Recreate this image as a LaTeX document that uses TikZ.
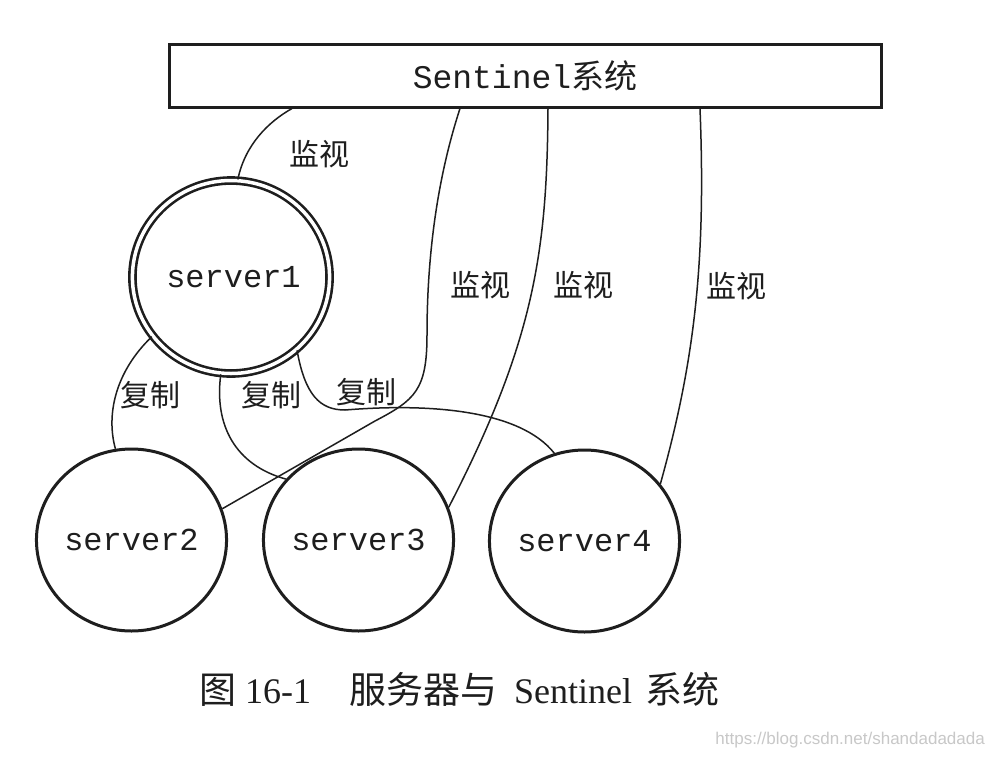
\documentclass[tikz,border=0pt]{standalone}
\usepackage{fontspec}
\setmainfont{Liberation Serif}
\newfontfamily\cjk{Noto Sans CJK SC}
\newfontfamily\mono{Liberation Mono}
\newfontfamily\wmfont{Liberation Sans}
\usetikzlibrary{shapes.geometric}
\definecolor{ink}{HTML}{1E1E1E}
\definecolor{wmgray}{HTML}{C8C8C8}
\begin{document}
\begin{tikzpicture}[x=1pt,y=-1pt,
  box/.style={draw=ink, line width=3pt, minimum width=712pt, minimum height=63pt, inner sep=0pt, text=ink, font=\fontsize{33}{36}\selectfont},
  srv/.style={draw=ink, ellipse, line width=3pt, minimum width=186pt, minimum height=182pt, inner sep=0pt, text=ink, font=\mono\fontsize{32}{34}\selectfont},
  master/.style={srv, double, double distance=3.5pt, line width=2.6pt, minimum width=197pt, minimum height=193pt},
  link/.style={draw=ink, line width=1.5pt},
  lab/.style={inner sep=0pt, text=ink, font=\cjk\fontsize{30}{34}\selectfont},
  captxt/.style={inner sep=0pt, anchor=base west, text=ink, font=\fontsize{36}{40}\selectfont},
  capcjk/.style={captxt, font=\cjk\fontsize{37}{40}\selectfont},
]
\useasboundingbox[fill=white] (0,0) rectangle (988,756);

% nodes
\node[box] (sen) at (525,75.5) {{\mono Sentinel}{\cjk 系统}};
\node[master] (s1) at (231,277) {\hspace{5pt}server1};
\node[srv] (s2) at (131.5,540) {server2};
\node[srv] (s3) at (358.5,540) {server3};
\node[srv] (s4) at (584.5,541) {server4};

% monitoring links
\draw[link] ([xshift=-233pt]sen.south) .. controls (268,122) and (245,145) .. (s1.86);
\draw[link] ([xshift=-65pt]sen.south) .. controls (435,185) and (427,265) .. (427,335)
   .. controls (427,390) and (415,400) .. (375,421) -- (s2.19);
\draw[link] ([xshift=23pt]sen.south) .. controls (547,250) and (535,340) .. (s3.20);
\draw[link] ([xshift=175pt]sen.south) .. controls (706,260) and (695,360) .. (s4.37);

% replication links
\draw[link] (s1.217) .. controls (115,372) and (106,415) .. (s2.100);
\draw[link] (s1.264) .. controls (214,425) and (235,465) .. (s3.140);
\draw[link] (s1.312) .. controls (305,395) and (320,410) .. (345,410)
   .. controls (430,403) and (520,410) .. (s4.109);

% labels
\node[lab] (m1) at (319,154) {监视};
\node[lab] (m2) at (480,285) {监视};
\node[lab] (m3) at (583,285) {监视};
\node[lab] (m4) at (736,286) {监视};
\node[lab] (r1) at (150,395) {复制};
\node[lab] (r2) at (271,395) {复制};
\node[lab] (r3) at (366,392) {复制};

% caption
\node[capcjk] (c1) at (199,703) {图};
\node[captxt] (c2) at (245,703) {16-1};
\node[capcjk] (c3) at (349,703) {服务器与};
\node[captxt] (c4) at (514,703) {Sentinel};
\node[capcjk] (c5) at (645,703) {系统};

% watermark
\node[anchor=base east, inner sep=0pt, text=wmgray, font=\wmfont\fontsize{17}{20}\selectfont] (wm) at (985,744) {https://blog.csdn.net/shandadadada};
\end{tikzpicture}
\end{document}
